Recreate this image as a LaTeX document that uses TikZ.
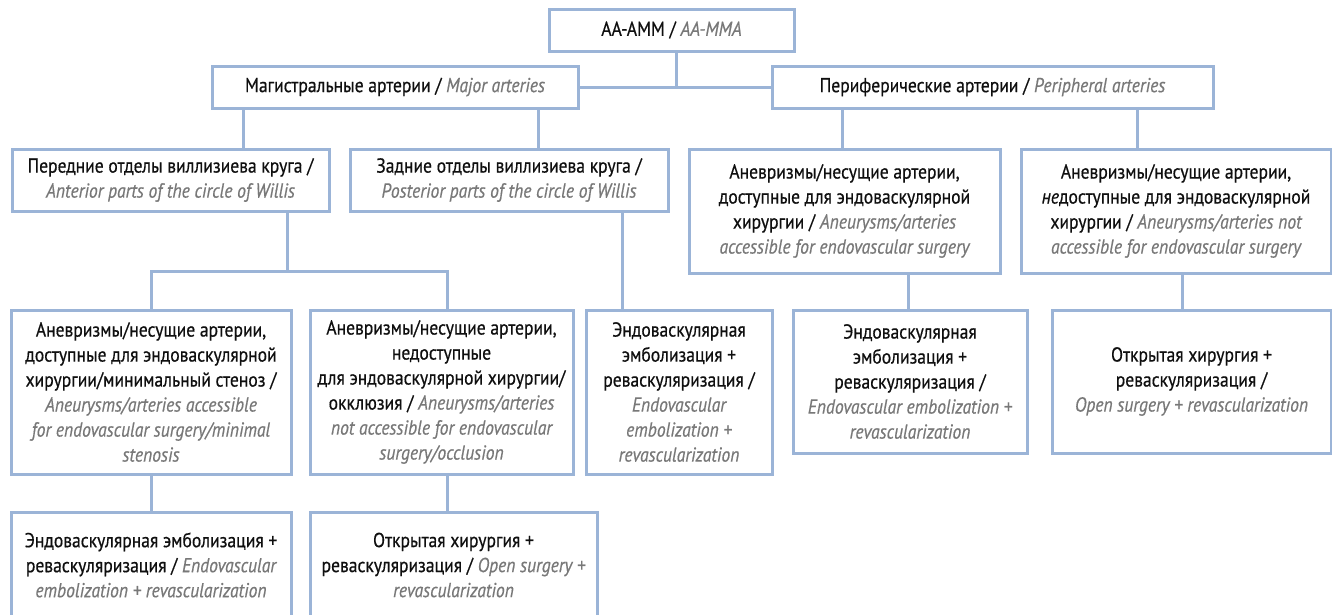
\documentclass[tikz,border=0pt]{standalone}
\usepackage{fontspec}
\setmainfont{PT Sans}[FakeStretch=0.87, FakeBold=0.5]
\definecolor{bline}{RGB}{155,180,215}
\definecolor{engc}{RGB}{120,120,120}
\definecolor{rusc}{RGB}{15,15,15}
\newcommand{\eng}[1]{{\itshape\color{engc}#1}}
\begin{document}
\begin{tikzpicture}[x=1pt,y=-1pt,
  box/.style={draw=bline, line width=3pt, fill=white, align=center, inner sep=0pt,
    text=rusc, font=\fontsize{20.2}{25}\selectfont},
  conn/.style={draw=bline, line width=3pt}]
\useasboundingbox (0,0) rectangle (1332,614);
\clip (0,0) rectangle (1332,614);
\fill[white] (0,0) rectangle (1332,614);

\node[box, minimum width=245pt, minimum height=42pt] (root) at (671.5,30) {АА-АММ / \eng{AA-MMA}};
\node[box, minimum width=366pt, minimum height=42pt] (major) at (395,87) {Магистральные артерии / \eng{Major arteries}};
\node[box, minimum width=441pt, minimum height=42pt] (periph) at (992.5,87) {Периферические артерии / \eng{Peripheral arteries}};

\node[box, minimum width=317pt, minimum height=62pt] (ant) at (170.5,180) {Передние отделы виллизиева круга /\\ \eng{Anterior parts of the circle of Willis}};
\node[box, minimum width=318pt, minimum height=62pt] (post) at (509,180) {Задние отделы виллизиева круга /\\ \eng{Posterior parts of the circle of Willis}};
\node[box, minimum width=311pt, minimum height=124pt] (pacc) at (844.5,211) {Аневризмы/несущие артерии,\\ доступные для эндоваскулярной\\ хирургии / \eng{Aneurysms/arteries}\\ \eng{accessible for endovascular surgery}};
\node[box, minimum width=310pt, minimum height=124pt] (pnacc) at (1176,211) {Аневризмы/несущие артерии,\\ \textit{не}доступные для эндоваскулярной\\ хирургии / \eng{Aneurysms/arteries not}\\ \eng{accessible for endovascular surgery}};

\node[box, minimum width=280pt, minimum height=164pt] (a1) at (151,392) {Аневризмы/несущие артерии,\\ доступные для эндоваскулярной\\ хирургии/минимальный стеноз /\\ \eng{Aneurysms/arteries accessible}\\ \eng{for endovascular surgery/minimal}\\ \eng{stenosis}};
\node[box, minimum width=263pt, minimum height=164pt] (a2) at (441.5,392) {Аневризмы/несущие артерии,\\ недоступные\\ для эндоваскулярной хирургии/\\ окклюзия / \eng{Aneurysms/arteries}\\ \eng{not accessible for endovascular}\\ \eng{surgery/occlusion}};
\node[box, minimum width=186pt, minimum height=164pt] (postc) at (679,392) {Эндоваскулярная\\ эмболизация +\\ реваскуляризация /\\ \eng{Endovascular}\\ \eng{embolization +}\\ \eng{revascularization}};
\node[box, minimum width=234pt, minimum height=143pt] (paccc) at (910,381.5) {Эндоваскулярная\\ эмболизация +\\ реваскуляризация /\\ \eng{Endovascular embolization +}\\ \eng{revascularization}};
\node[box, minimum width=279pt, minimum height=143pt] (pnaccc) at (1191.5,381.5) {Открытая хирургия +\\ реваскуляризация /\\ \eng{Open surgery + revascularization}};

\node[box, minimum width=280pt, minimum height=106pt] (a1c) at (151,565) {Эндоваскулярная эмболизация +\\ реваскуляризация / \eng{Endovascular}\\ \eng{embolization + revascularization}};
\node[box, minimum width=287pt, minimum height=106pt] (a2c) at (453.5,565) {Открытая хирургия +\\ реваскуляризация / \eng{Open surgery +}\\ \eng{revascularization}};

\coordinate (v0) at (676,0);
\coordinate (v1) at (243,0);
\coordinate (v2) at (538,0);
\coordinate (v3) at (842,0);
\coordinate (v4) at (1137,0);
\coordinate (jA) at (287,271);
\coordinate (v6) at (447,0);
\coordinate (v7) at (622,0);
\coordinate (v8) at (908,0);
\coordinate (v9) at (1182,0);

\draw[conn] (root.south -| v0) -- (major.east -| v0);
\draw[conn] (major.east) -- (periph.west);
\draw[conn] (major.south -| v1) -- (ant.north -| v1);
\draw[conn] (major.south -| v2) -- (post.north -| v2);
\draw[conn] (periph.south -| v3) -- (pacc.north -| v3);
\draw[conn] (periph.south -| v4) -- (pnacc.north -| v4);
\draw[conn] (ant.south -| jA) -- (jA);
\draw[conn] (a1.north) -- (a1.north |- jA) -- (jA -| v6) -- (a2.north -| v6);
\draw[conn] (post.south -| v7) -- (postc.north -| v7);
\draw[conn] (pacc.south -| v8) -- (paccc.north -| v8);
\draw[conn] (pnacc.south -| v9) -- (pnaccc.north -| v9);
\draw[conn] (a1.south) -- (a1c.north);
\draw[conn] (a2.south -| v6) -- (a2c.north -| v6);
\end{tikzpicture}
\end{document}
